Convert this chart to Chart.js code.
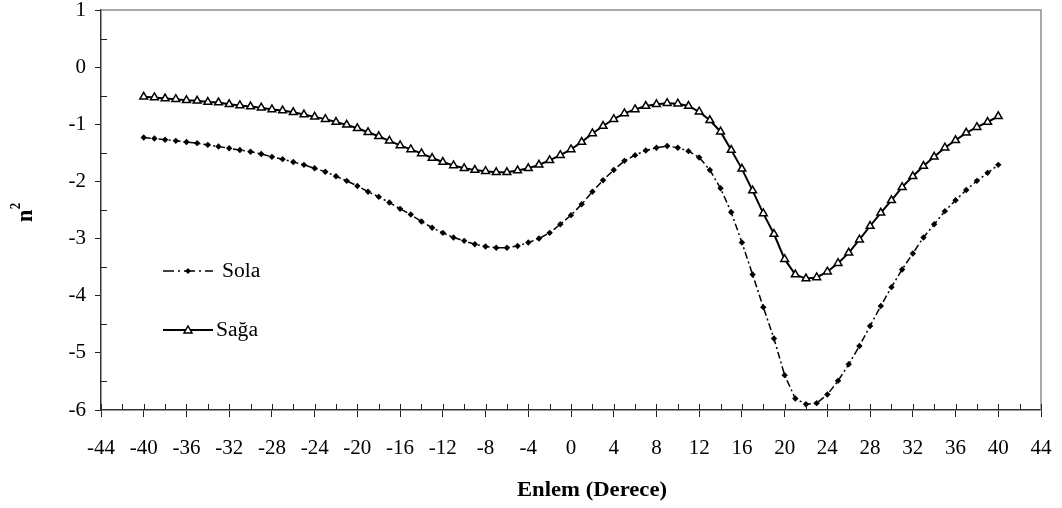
<!DOCTYPE html>
<html>
<head>
<meta charset="utf-8">
<script src="https://cdn.jsdelivr.net/npm/chart.js@4.4.0/dist/chart.umd.min.js"></script>
<style>
    html, body { margin: 0; padding: 0; background: #fff; }
    #wrap { width: 1062px; height: 508px; }
</style>
</head>
<body>
<div id="wrap"><canvas id="myChart" width="1062" height="508"></canvas></div>
<script>
// Enlem (derece)
const latitudes = [-40, -39, -38, -37, -36, -35, -34, -33, -32, -31, -30, -29, -28, -27, -26, -25, -24, -23, -22, -21,
    -20, -19, -18, -17, -16, -15, -14, -13, -12, -11, -10, -9, -8, -7, -6, -5, -4, -3, -2, -1,
    0, 1, 2, 3, 4, 5, 6, 7, 8, 9, 10, 11, 12, 13, 14, 15, 16, 17, 18, 19,
    20, 21, 22, 23, 24, 25, 26, 27, 28, 29, 30, 31, 32, 33, 34, 35, 36, 37, 38, 39, 40];

const sola = [-1.23, -1.25, -1.27, -1.29, -1.31, -1.33, -1.36, -1.39, -1.42, -1.45,
    -1.48, -1.52, -1.57, -1.61, -1.66, -1.71, -1.77, -1.83, -1.91, -1.99,
    -2.08, -2.18, -2.27, -2.37, -2.48, -2.58, -2.70, -2.81, -2.90, -2.98,
    -3.04, -3.10, -3.14, -3.16, -3.16, -3.13, -3.07, -3.00, -2.90, -2.75,
    -2.59, -2.40, -2.18, -1.98, -1.80, -1.64, -1.54, -1.46, -1.41, -1.38,
    -1.41, -1.47, -1.58, -1.80, -2.12, -2.54, -3.07, -3.63, -4.20, -4.75,
    -5.39, -5.80, -5.90, -5.88, -5.73, -5.49, -5.20, -4.88, -4.53, -4.18,
    -3.85, -3.54, -3.26, -2.98, -2.75, -2.52, -2.33, -2.15, -1.99, -1.85, -1.71];

const saga = [-0.52, -0.53, -0.55, -0.56, -0.58, -0.59, -0.61, -0.62, -0.65, -0.67,
    -0.69, -0.71, -0.74, -0.76, -0.79, -0.83, -0.87, -0.91, -0.96, -1.01,
    -1.07, -1.14, -1.21, -1.29, -1.37, -1.44, -1.51, -1.59, -1.66, -1.72,
    -1.77, -1.80, -1.82, -1.84, -1.84, -1.81, -1.77, -1.71, -1.63, -1.54,
    -1.44, -1.31, -1.16, -1.03, -0.91, -0.81, -0.74, -0.68, -0.65, -0.63,
    -0.64, -0.68, -0.78, -0.93, -1.13, -1.45, -1.78, -2.16, -2.56, -2.92,
    -3.36, -3.63, -3.70, -3.68, -3.58, -3.43, -3.25, -3.02, -2.78, -2.55,
    -2.33, -2.10, -1.91, -1.73, -1.57, -1.41, -1.28, -1.15, -1.05, -0.96, -0.86];

const xRange = [-44, 44];
const yRange = [-6, 1];
const xTitle = 'Enlem (Derece)';
const yTitle = 'n';
const seriesNames = ['Sola', 'Sağa'];

const FONT = "'Liberation Serif', 'Times New Roman', serif";

// draws text a bit wider, the original picture is stretched sideways
function wideText(ctx, text, x, y, sx) {
    ctx.save();
    ctx.translate(x, y);
    ctx.scale(sx, 1);
    ctx.fillText(text, 0, 0);
    ctx.restore();
}

// ara çentikler, eksen başlıkları, çerçeve ve lejant
const decorPlugin = {
    id: 'decor',
    afterDraw(chart) {
        const ctx = chart.ctx;
        const area = chart.chartArea;
        const xs = chart.scales.x;
        const ys = chart.scales.y;
        ctx.save();

        // üst ve sağ çerçeve
        ctx.strokeStyle = '#8c8c8c';
        ctx.lineWidth = 1.5;
        ctx.beginPath();
        ctx.moveTo(area.left, area.top);
        ctx.lineTo(area.right, area.top);
        ctx.lineTo(area.right, area.bottom);
        ctx.stroke();

        // x çentikleri (eksenin üstüne)
        ctx.strokeStyle = '#222';
        ctx.lineWidth = 1;
        for (let v = xRange[0]; v <= xRange[1]; v += 2) {
            const px = Math.round(xs.getPixelForValue(v)) + 0.5;
            ctx.beginPath();
            ctx.moveTo(px, area.bottom);
            ctx.lineTo(px, area.bottom - 6);
            ctx.stroke();
        }
        // y ara çentikleri (içeri)
        for (let v = yRange[0] + 0.5; v < yRange[1]; v += 1) {
            const py = Math.round(ys.getPixelForValue(v)) + 0.5;
            ctx.beginPath();
            ctx.moveTo(area.left, py);
            ctx.lineTo(area.left + 6, py);
            ctx.stroke();
        }

        // eksen başlıkları
        ctx.fillStyle = '#000';
        ctx.font = 'bold 21px ' + FONT;
        ctx.textAlign = 'center';
        ctx.textBaseline = 'middle';
        wideText(ctx, xTitle, 592, 491, 1.08);

        ctx.save();
        ctx.translate(26, 216);
        ctx.rotate(-Math.PI / 2);
        ctx.scale(1, 1.08);
        ctx.font = 'bold 22px ' + FONT;
        ctx.fillText(yTitle, 0, 0);
        ctx.font = 'bold 13px ' + FONT;
        ctx.fillText('2', 10, -9);
        ctx.restore();

        // lejant
        const legendX = 163, legendW = 50;
        const rows = [271, 330];
        const mx = legendX + legendW / 2;
        ctx.font = '20px ' + FONT;
        ctx.textAlign = 'left';

        // Sola
        ctx.strokeStyle = '#000';
        ctx.lineWidth = 1.5;
        ctx.setLineDash([11, 4, 2, 4]);
        ctx.beginPath();
        ctx.moveTo(legendX, rows[0]);
        ctx.lineTo(legendX + legendW, rows[0]);
        ctx.stroke();
        ctx.setLineDash([]);
        ctx.fillStyle = '#000';
        ctx.beginPath();
        ctx.moveTo(mx, rows[0] - 3);
        ctx.lineTo(mx + 3, rows[0]);
        ctx.lineTo(mx, rows[0] + 3);
        ctx.lineTo(mx - 3, rows[0]);
        ctx.closePath();
        ctx.fill();
        wideText(ctx, seriesNames[0], 222, rows[0] + 1, 1.08);

        // Sağa
        ctx.lineWidth = 2;
        ctx.beginPath();
        ctx.moveTo(legendX, rows[1]);
        ctx.lineTo(legendX + legendW, rows[1]);
        ctx.stroke();
        ctx.fillStyle = '#fff';
        ctx.lineWidth = 1.5;
        ctx.beginPath();
        ctx.moveTo(mx, rows[1] - 4);
        ctx.lineTo(mx + 4, rows[1] + 3);
        ctx.lineTo(mx - 4, rows[1] + 3);
        ctx.closePath();
        ctx.fill();
        ctx.stroke();
        ctx.fillStyle = '#000';
        wideText(ctx, seriesNames[1], 216, rows[1] + 1, 1.08);

        ctx.restore();
    }
};

const ctx = document.getElementById('myChart').getContext('2d');
new Chart(ctx, {
    type: 'line',
    data: {
        datasets: [{
            label: seriesNames[0],
            data: latitudes.map((x, i) => ({ x: x, y: sola[i] })),
            borderColor: '#000',
            borderWidth: 1.5,
            borderDash: [7, 3, 2, 3],
            pointStyle: 'rectRot',
            pointRadius: 3.2,
            pointBackgroundColor: '#000',
            pointBorderWidth: 0,
            fill: false,
            tension: 0
        }, {
            label: seriesNames[1],
            data: latitudes.map((x, i) => ({ x: x, y: saga[i] })),
            borderColor: '#000',
            borderWidth: 2,
            pointStyle: 'triangle',
            pointRadius: 4.5,
            pointBackgroundColor: '#fff',
            pointBorderColor: '#000',
            pointBorderWidth: 1.5,
            fill: false,
            tension: 0
        }]
    },
    options: {
        responsive: false,
        animation: false,
        devicePixelRatio: 1,
        layout: { padding: { top: 10, right: 21, bottom: 0, left: 0 } },
        plugins: {
            legend: { display: false },
            tooltip: { enabled: false }
        },
        scales: {
            x: {
                type: 'linear',
                min: xRange[0],
                max: xRange[1],
                afterFit: s => {
                    s.height = 98;
                    s.paddingLeft = 0;
                    s.paddingRight = 0;
                },
                ticks: {
                    stepSize: 4,
                    autoSkip: false,
                    maxRotation: 0,
                    padding: 19,
                    color: '#000',
                    font: { family: FONT, size: 21 }
                },
                grid: { drawOnChartArea: false, drawTicks: true, tickLength: 7, color: '#222' },
                border: { display: true, color: '#333', width: 1.5 }
            },
            y: {
                min: yRange[0],
                max: yRange[1],
                afterFit: s => {
                    s.width = 101;
                    s.paddingTop = 0;
                    s.paddingBottom = 0;
                },
                ticks: {
                    stepSize: 1,
                    padding: 9,
                    color: '#000',
                    font: { family: FONT, size: 21 }
                },
                grid: { drawOnChartArea: false, drawTicks: true, tickLength: 6, color: '#222' },
                border: { display: true, color: '#333', width: 1.5 }
            }
        }
    },
    plugins: [decorPlugin]
});
</script>
</body>
</html>
